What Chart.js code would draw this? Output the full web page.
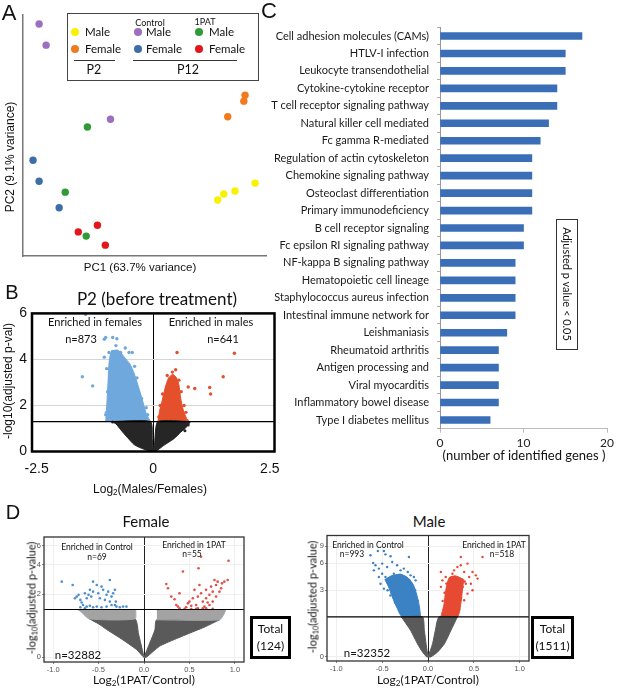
<!DOCTYPE html>
<html>
<head>
<meta charset="utf-8">
<script src="https://cdn.jsdelivr.net/npm/chart.js@4.4.1/dist/chart.umd.min.js"></script>
<style>
  body { margin: 0; background: #fff; }
  #fig { position: relative; width: 617px; height: 691px; overflow: hidden; font-family: Lato, sans-serif; color: #111; }
  canvas { position: absolute; }
  .t { position: absolute; transform: translate(-50%, -50%); white-space: nowrap; line-height: 1; }
  .l { position: absolute; transform: translateY(-50%); white-space: nowrap; line-height: 1; }
  .v { position: absolute; transform: translate(-50%, -50%) rotate(-90deg); white-space: nowrap; line-height: 1; }
  .dot { position: absolute; width: 8px; height: 8px; border-radius: 50%; transform: translate(-50%, -50%); }
  .arial { font-family: "Liberation Sans", Arial, sans-serif; }
  sub { font-size: 68%; vertical-align: -0.25em; line-height: 0; }
  .box { position: absolute; box-sizing: border-box; border: 3px solid #000; display: flex; align-items: center; justify-content: center; text-align: center; font-size: 12px; line-height: 1.35; }
</style>
</head>
<body>
<div id="fig">
  <canvas id="pca" width="270" height="280" style="left:0;top:0"></canvas>
  <canvas id="volcP2" width="300" height="200" style="left:0;top:300px"></canvas>
  <canvas id="kegg" width="357" height="470" style="left:260px;top:0"></canvas>
  <canvas id="volcFemale" width="300" height="161" style="left:0;top:530px"></canvas>
  <canvas id="volcMale" width="317" height="161" style="left:300px;top:530px"></canvas>

  <!-- panel letters -->
  <div class="t arial" style="left:9px;top:13px;font-size:22px">A</div>
  <div class="t arial" style="left:12px;top:292px;font-size:20px">B</div>
  <div class="t arial" style="left:269px;top:11px;font-size:22px">C</div>
  <div class="t arial" style="left:13px;top:512px;font-size:20px">D</div>

  <!-- A: titles + legend -->
  <div class="t arial" style="left:140px;top:268px;font-size:11.5px">PC1 (63.7% variance)</div>
  <div class="v arial" style="left:10px;top:157px;font-size:12px">PC2 (9.1% variance)</div>
  <div style="position:absolute;left:67px;top:13px;width:192px;height:68px;border:1px solid #444;box-sizing:border-box"></div>
  <div class="dot" style="left:75px;top:32px;background:#f7f200"></div>
  <div class="dot" style="left:75px;top:49px;background:#f07a1e"></div>
  <div class="dot" style="left:138px;top:32px;background:#9d6fc0"></div>
  <div class="dot" style="left:138px;top:49px;background:#3d6ea8"></div>
  <div class="dot" style="left:199px;top:32px;background:#2f9a36"></div>
  <div class="dot" style="left:199px;top:49px;background:#e3161c"></div>
  <div class="l" style="left:85px;top:32px;font-size:11.5px">Male</div>
  <div class="l" style="left:85px;top:49px;font-size:11.5px">Female</div>
  <div class="l" style="left:146px;top:32px;font-size:11.5px">Male</div>
  <div class="l" style="left:146px;top:49px;font-size:11.5px">Female</div>
  <div class="l" style="left:209px;top:32px;font-size:11.5px">Male</div>
  <div class="l" style="left:209px;top:49px;font-size:11.5px">Female</div>
  <div class="t" style="left:150px;top:22px;font-size:9px">Control</div>
  <div class="t" style="left:205px;top:21px;font-size:9px">1PAT</div>
  <div style="position:absolute;left:74px;top:60px;width:41px;height:1px;background:#333"></div>
  <div style="position:absolute;left:133px;top:60px;width:104px;height:1px;background:#333"></div>
  <div class="t" style="left:94px;top:70px;font-size:12.5px">P2</div>
  <div class="t" style="left:188px;top:70px;font-size:12.5px">P12</div>

  <!-- B: texts -->
  <div class="t" style="left:157px;top:298px;font-size:17px">P2 (before treatment)</div>
  <div class="t" style="left:95px;top:321px;font-size:11px">Enriched in females</div>
  <div class="t" style="left:81px;top:338px;font-size:11px">n=873</div>
  <div class="t" style="left:211px;top:321px;font-size:11px">Enriched in males</div>
  <div class="t" style="left:223px;top:338px;font-size:11px">n=641</div>
  <div class="t arial" style="left:150px;top:489px;font-size:12px">Log<sub>2</sub>(Males/Females)</div>
  <div class="v arial" style="left:8px;top:381px;font-size:12px">-log10(adjusted p-val)</div>

  <!-- C: texts -->
  <div class="t" style="left:524px;top:455px;font-size:13px">(number of identified genes )</div>
  <div style="position:absolute;left:556px;top:219px;width:22px;height:131px;border:1px solid #333;box-sizing:border-box"></div>
  <div class="t" style="left:567px;top:284px;font-size:11px;transform:translate(-50%,-50%) rotate(90deg)">Adjusted p value &lt; 0.05</div>

  <!-- D: texts -->
  <div class="t" style="left:146px;top:521px;font-size:15px">Female</div>
  <div class="t" style="left:429px;top:521px;font-size:15px">Male</div>
  <div class="t" style="left:97px;top:547px;font-size:8.5px">Enriched in Control</div>
  <div class="t" style="left:97px;top:557px;font-size:8.5px">n=69</div>
  <div class="t" style="left:194px;top:545px;font-size:8.5px">Enriched in 1PAT</div>
  <div class="t" style="left:192px;top:554px;font-size:8.5px">n=55</div>
  <div class="t" style="left:78px;top:655px;font-size:11.5px">n=32882</div>
  <div class="t" style="left:144px;top:680px;font-size:12px">Log<sub>2</sub>(1PAT/Control)</div>
  <div class="v" style="left:31px;top:598px;font-size:11px">-log<sub>10</sub>(adjusted p-value)</div>
  <div class="box" style="left:250px;top:616px;width:41px;height:43px">Total<br>(124)</div>

  <div class="t" style="left:368px;top:545px;font-size:8.5px">Enriched in Control</div>
  <div class="t" style="left:352px;top:554px;font-size:8.5px">n=993</div>
  <div class="t" style="left:494px;top:545px;font-size:8.5px">Enriched in 1PAT</div>
  <div class="t" style="left:502px;top:554px;font-size:8.5px">n=518</div>
  <div class="t" style="left:367px;top:653px;font-size:11.5px">n=32352</div>
  <div class="t" style="left:428px;top:680px;font-size:12px">Log<sub>2</sub>(1PAT/Control)</div>
  <div class="v" style="left:312px;top:597px;font-size:11px">-log<sub>10</sub>(adjusted p-value)</div>
  <div class="box" style="left:531px;top:616px;width:43px;height:43px">Total<br>(1511)</div>
</div>

<script>
// ---------- A: PCA (PC1, PC2) ----------
const aYellow = [[24.1, -10.7], [26.1, -9.7], [29.8, -9.2], [36.4, -7.9]];
const aOrange = [[33.1, 6.7], [32.7, 5.7], [27.4, 3.1]];
const aPurple = [[-34.7, 18.5], [-32.4, 15.0], [-11.2, 2.7]];
const aGreen = [[-18.8, 1.4], [-26.1, -9.4], [-19.2, -16.7]];
const aBlue = [[-36.7, -4.1], [-34.7, -7.6], [-28.1, -12.0]];
const aRed = [[-21.8, -16.0], [-15.5, -14.9], [-12.9, -18.2]];

// ---------- B: P2 volcano (log2 FC, -log10 adj p) ----------
const bThreshold = 1.3;
const bXTicks = [-2.5, 0, 2.5];
const bYTicks = [0, 2, 4, 6];
const bBlueCore = [[-1.02, 1.3], [-1.0, 1.9], [-0.97, 3.0], [-0.95, 3.8], [-0.9, 4.35], [-0.75, 4.4], [-0.62, 4.1],
  [-0.5, 3.8], [-0.41, 3.4], [-0.33, 2.9], [-0.27, 2.5], [-0.2, 2.0], [-0.16, 1.7], [-0.1, 1.45], [-0.05, 1.3]];
const bRedCore = [[0.1, 1.3], [0.14, 1.8], [0.19, 2.2], [0.26, 2.8], [0.33, 3.2], [0.42, 3.35], [0.5, 3.2],
  [0.55, 2.9], [0.59, 2.3], [0.63, 1.9], [0.68, 1.6], [0.74, 1.3]];
const bBlackLeftLow = [[-0.9, 1.3], [-0.8, 1.2], [-0.7, 0.95], [-0.55, 0.6], [-0.41, 0.3], [-0.3, 0.18], [-0.2, 0.1], [-0.06, 0.0], [0, 0]];
const bBlackLeftHigh = [[-0.9, 1.3], [-0.06, 1.3], [-0.02, 0.5], [0, 0]];
const bBlackRightLow = [[0, 0], [0.05, 0], [0.23, 0.27], [0.44, 0.55], [0.59, 0.84], [0.73, 1.1], [0.8, 1.3]];
const bBlackRightHigh = [[0, 0], [0.03, 0.4], [0.1, 1.3], [0.8, 1.3]];
const bBlue = [[-1.52, 3.25], [-1.30, 2.85], [-1.05, 4.88], [-1.02, 4.95], [-0.87, 4.95], [-0.78, 4.9], [-0.95, 4.3],
  [-0.87, 4.35], [-0.70, 4.3], [-0.52, 4.3], [-0.45, 4.3], [-1.05, 4.1], [-1.02, 1.6], [-1.0, 1.7], [-0.97, 1.9],
  [-0.9, 2.05], [-1.45, 5.95], [-0.6, 4.5], [-0.8, 4.6], [-1.0, 3.6], [-0.98, 2.6], [-0.4, 3.7], [-0.35, 3.2],
  [-0.25, 2.3], [-0.15, 1.9], [-0.12, 1.6]];
const bRed = [[0.51, 4.3], [1.74, 4.27], [1.50, 3.25], [1.21, 2.78], [1.23, 2.5], [0.89, 2.74], [0.75, 2.8],
  [0.48, 3.55], [0.41, 3.45], [0.73, 1.34], [0.66, 2.0], [0.7, 1.7], [0.6, 2.6], [0.3, 3.3], [0.2, 2.5],
  [0.15, 2.0], [0.12, 1.5], [0.55, 3.1]];
const bBlack = [[-0.87, 1.28], [-0.74, 1.2], [-0.6, 0.95], [0.64, 0.98], [0.68, 0.9], [0.75, 1.15], [0.5, 0.8],
  [-0.5, 0.8], [-0.3, 0.35], [0.3, 0.5]];

// ---------- C: KEGG pathways ----------
const cPathways = ['Cell adhesion molecules (CAMs)', 'HTLV-I infection', 'Leukocyte transendothelial',
  'Cytokine-cytokine receptor', 'T cell receptor signaling pathway', 'Natural killer cell mediated',
  'Fc gamma R-mediated', 'Regulation of actin cytoskeleton', 'Chemokine signaling pathway',
  'Osteoclast differentiation', 'Primary immunodeficiency', 'B cell receptor signaling',
  'Fc epsilon RI signaling pathway', 'NF-kappa B signaling pathway', 'Hematopoietic cell lineage',
  'Staphylococcus aureus infection', 'Intestinal immune network for', 'Leishmaniasis',
  'Rheumatoid arthritis', 'Antigen processing and', 'Viral myocarditis', 'Inflammatory bowel disease',
  'Type I diabetes mellitus'];
const cGenes = [17, 15, 15, 14, 14, 13, 12, 11, 11, 11, 11, 10, 10, 9, 9, 9, 9, 8, 7, 7, 7, 7, 6];

// ---------- D: P12 volcanoes (log2 FC, -log10 adj p) ----------
const dThreshold = 1.3;
const dXTicks = [-1, -0.5, 0, 0.5, 1];
const dfYTicks = [0, 2, 4, 6];
const dmYTicks = [0, 3, 6, 9];
const dfBlue = [[-0.905, 2.74], [-0.785, 2.53], [-0.74, 1.88], [-0.76, 1.80], [-0.72, 1.97], [-0.70, 1.72],
  [-0.686, 1.60], [-0.67, 1.49], [-0.63, 1.80], [-0.65, 2.05], [-0.61, 1.97], [-0.595, 2.24], [-0.58, 1.88],
  [-0.56, 2.14], [-0.56, 2.74], [-0.52, 2.53], [-0.503, 2.05], [-0.485, 1.80], [-0.467, 2.43], [-0.449, 2.24],
  [-0.43, 1.72], [-0.412, 1.97], [-0.394, 2.14], [-0.376, 2.85], [-0.376, 1.64], [-0.357, 1.88], [-0.339, 2.05],
  [-0.32, 2.24], [-0.32, 1.49], [-0.357, 1.49], [-0.31, 1.64], [-0.303, 1.42], [-0.266, 1.39], [-0.23, 1.42],
  [-0.193, 1.42], [-0.412, 1.42], [-0.467, 1.39], [-0.52, 1.42], [-0.56, 1.39], [-0.595, 1.45], [-0.63, 1.42],
  [-0.70, 1.39], [-0.65, 1.35]];
const dfRed = [[0.245, 2.59], [0.264, 2.33], [0.30, 1.88], [0.336, 1.75], [0.355, 1.49], [0.373, 1.42],
  [0.391, 2.05], [0.391, 1.35], [0.428, 3.46], [0.464, 1.39], [0.483, 1.56], [0.50, 1.64], [0.52, 1.45],
  [0.537, 1.80], [0.555, 2.24], [0.574, 1.49], [0.592, 1.88], [0.60, 3.72], [0.61, 2.53], [0.628, 2.05],
  [0.647, 1.64], [0.647, 1.35], [0.665, 1.42], [0.683, 1.80], [0.70, 1.60], [0.72, 1.97], [0.738, 2.43],
  [0.756, 2.14], [0.775, 2.85], [0.793, 2.53], [0.81, 2.74], [0.858, 2.63], [0.884, 2.74], [0.92, 2.85],
  [0.93, 4.39], [0.628, 4.78], [0.683, 1.35], [0.574, 1.33], [0.52, 1.32], [0.446, 1.33], [0.72, 1.49],
  [0.756, 1.64], [0.793, 1.88], [0.848, 2.33], [0.83, 2.14], [0.683, 2.24], [0.756, 1.33], [0.592, 1.35]];
const dfGrayLeftLow = [[-0.6, 0.95], [-0.5, 0.79], [-0.41, 0.62], [-0.23, 0.35], [-0.08, 0.14], [-0.01, 0.01], [0, 0]];
const dfGrayLeftHigh = [[-0.6, 0.95], [-0.1, 0.95], [-0.06, 0.5], [-0.02, 0.15], [0, 0]];
const dfGrayRightLow = [[0, 0], [0.026, 0], [0.17, 0.21], [0.32, 0.35], [0.5, 0.52], [0.68, 0.71], [0.83, 0.92]];
const dfGrayRightHigh = [[0, 0], [0.063, 0.28], [0.12, 0.61], [0.14, 0.92], [0.83, 0.92]];
const dfSpeckLeft = [[-0.73, 1.3], [-0.69, 1.2], [-0.6, 0.95], [-0.1, 0.95], [-0.09, 1.3]];
const dfSpeckRight = [[0.14, 0.92], [0.83, 0.92], [0.884, 1.15], [0.9, 1.3]];

const dmBlue = [[-0.626, 7.28], [-0.546, 8.06], [-0.48, 8.06], [-0.463, 7.45], [-0.408, 7.11], [-0.208, 7.0],
  [-0.597, 6.06], [-0.572, 5.73], [-0.535, 5.28], [-0.499, 5.97], [-0.445, 5.5], [-0.39, 6.2], [-0.336, 5.73],
  [-0.299, 5.06], [-0.263, 5.28], [-0.22, 4.85], [-0.19, 4.46], [-0.154, 4.27], [-0.499, 4.65], [-0.463, 4.27],
  [-0.535, 4.27], [-0.445, 3.75], [-0.372, 4.65], [-0.317, 4.27], [-0.263, 4.27], [-0.59, 5.06], [-0.517, 3.59],
  [-0.48, 3.14], [-0.19, 3.59], [-0.135, 3.92], [-0.44, 3.0], [-0.41, 2.6], [-0.36, 2.1], [-0.3, 1.6],
  [-0.42, 3.4], [-0.2, 3.9], [-0.14, 3.0], [-0.11, 2.2]];
const dmRed = [[0.357, 7.0], [0.594, 7.0], [0.43, 5.97], [0.485, 4.85], [0.521, 4.46], [0.54, 4.1], [0.14, 4.85],
  [0.193, 4.27], [0.21, 3.59], [0.284, 5.06], [0.32, 5.5], [0.357, 5.73], [0.394, 4.85], [0.449, 4.27],
  [0.467, 3.59], [0.485, 3.0], [0.43, 2.73], [0.394, 2.25], [0.157, 3.92], [0.266, 4.65], [0.412, 3.59], [0.14, 3.3],
  [0.16, 2.2], [0.18, 2.8], [0.2, 3.6], [0.36, 2.4], [0.38, 3.3], [0.4, 3.8], [0.34, 1.7]];
const dmBlueLow = [[-0.47, 4.0], [-0.43, 3.3], [-0.39, 2.5], [-0.34, 1.8], [-0.28, 1.3], [-0.08, 1.3]];
const dmBlueHigh = [[-0.47, 4.0], [-0.4, 4.4], [-0.3, 4.6], [-0.22, 4.2], [-0.16, 3.5], [-0.12, 2.6], [-0.095, 1.9], [-0.08, 1.3]];
const dmRedLow = [[0.14, 1.3], [0.32, 1.3], [0.357, 2.0], [0.375, 3.0], [0.39, 4.0]];
const dmRedHigh = [[0.14, 1.3], [0.175, 2.0], [0.193, 3.0], [0.23, 4.2], [0.3, 4.4], [0.39, 4.0]];
const dmGrayLeftLow = [[-0.29, 1.3], [-0.19, 0.74], [-0.116, 0.32], [-0.06, 0.11], [-0.014, 0], [0, 0]];
const dmGrayLeftHigh = [[-0.29, 1.3], [-0.06, 1.3], [-0.04, 0.74], [-0.02, 0.3], [0, 0]];
const dmGrayRightLow = [[0, 0], [0.03, 0], [0.105, 0.11], [0.18, 0.32], [0.25, 0.74], [0.32, 1.3]];
const dmGrayRightHigh = [[0, 0], [0.05, 0.32], [0.08, 0.74], [0.12, 1.3], [0.32, 1.3]];

Chart.defaults.font.family = 'Lato';
Chart.defaults.animation = false;

// frame around the plotting area
const framePlugin = {
  id: 'frame',
  afterDatasetsDraw(chart, args, opts) {
    if (!opts.width) return;
    const { left, top, right, bottom } = chart.chartArea;
    const ctx = chart.ctx;
    ctx.save();
    ctx.strokeStyle = opts.color;
    ctx.lineWidth = opts.width;
    ctx.strokeRect(left, top, right - left, bottom - top);
    ctx.restore();
  }
};

const same = v => v;
const pLog = v => Math.log10(1 + v);   // compressed y axis used in panel D
const toXY = (arr, tf) => arr.map(p => ({ x: p[0], y: tf(p[1]) }));

function points(arr, color, r, tf) {
  return { type: 'scatter', data: toXY(arr, tf), backgroundColor: color, pointRadius: r,
    borderWidth: 0, pointBorderWidth: 0, order: 2 };
}
// dense clouds: area between two outlines
function band(low, high, color, tf) {
  return [
    { type: 'line', data: toXY(low, tf), fill: '+1', backgroundColor: color, borderColor: color,
      borderWidth: 1, pointRadius: 0, tension: 0.2, order: 5 },
    { type: 'line', data: toXY(high, tf), fill: false, borderColor: color,
      borderWidth: 1, pointRadius: 0, tension: 0.2, order: 5 }
  ];
}
function toLevel(arr, level, color, tf) {
  return { type: 'line', data: toXY(arr, tf), fill: { value: tf(level) }, backgroundColor: color,
    borderColor: color, borderWidth: 1, pointRadius: 0, tension: 0.2, order: 5 };
}
function hline(level, xmin, xmax, tf) {
  return { type: 'line', data: [{ x: xmin, y: tf(level) }, { x: xmax, y: tf(level) }],
    borderColor: '#000', borderWidth: 1.2, pointRadius: 0, order: 0 };
}
const noLegend = { legend: { display: false }, tooltip: { enabled: false } };

// ---------- A ----------
new Chart('pca', {
  type: 'scatter',
  data: {
    datasets: [
      points(aYellow, '#f7f200', 3.7, same), points(aOrange, '#f07a1e', 3.7, same),
      points(aPurple, '#9d6fc0', 3.7, same), points(aGreen, '#2f9a36', 3.7, same),
      points(aBlue, '#3d6ea8', 3.7, same), points(aRed, '#e3161c', 3.7, same)
    ]
  },
  options: {
    responsive: false,
    layout: { padding: { left: 0, top: 15, right: 2, bottom: 0 } },
    plugins: noLegend,
    scales: {
      x: { min: -40, max: 40, ticks: { display: false }, grid: { display: false },
           border: { color: '#777', width: 1.5 }, afterFit: s => { s.height = 24; } },
      y: { min: -20, max: 20, ticks: { display: false }, grid: { display: false },
           border: { color: '#777', width: 1.5 }, afterFit: s => { s.width = 23; } }
    }
  }
});

// ---------- B ----------
const bMin = -2.6, bMax = 2.6;
new Chart('volcP2', {
  type: 'scatter',
  data: {
    datasets: [
      ...band(bBlackLeftLow, bBlackLeftHigh, '#262626', same),
      ...band(bBlackRightLow, bBlackRightHigh, '#262626', same),
      toLevel(bBlueCore, bThreshold, '#6fa8dc', same),
      toLevel(bRedCore, bThreshold, '#e4502b', same),
      points(bBlue, '#6fa8dc', 1.7, same),
      points(bRed, '#e4502b', 1.7, same),
      points(bBlack, '#262626', 1.5, same),
      hline(bThreshold, bMin, bMax, same)
    ]
  },
  options: {
    responsive: false,
    layout: { padding: { left: 0, top: 10, right: 25.5, bottom: 0 } },
    plugins: { ...noLegend, frame: { width: 2.5, color: '#000' } },
    scales: {
      x: { type: 'linear', min: bMin, max: bMax,
           afterBuildTicks: s => { s.ticks = bXTicks.map(v => ({ value: v })); },
           afterFit: s => { s.height = 48.5; },
           grid: { color: c => (c.tick && c.tick.value === 0 ? '#000' : 'rgba(0,0,0,0)'), drawTicks: false },
           border: { display: false },
           ticks: { padding: 9, color: '#111', font: { family: 'Liberation Sans', size: 14 }, callback: v => String(v) } },
      y: { min: 0, max: 6,
           afterBuildTicks: s => { s.ticks = bYTicks.map(v => ({ value: v })); },
           afterFit: s => { s.width = 32; },
           grid: { color: c => (c.tick && (c.tick.value === 2 || c.tick.value === 4) ? '#d6d6d6' : 'rgba(0,0,0,0)'), drawTicks: false },
           border: { display: false },
           ticks: { padding: 5, color: '#111', font: { family: 'Liberation Sans', size: 14 }, callback: v => String(v) } }
    }
  },
  plugins: [framePlugin]
});

// ---------- C ----------
new Chart('kegg', {
  type: 'bar',
  data: { labels: cPathways, datasets: [{ data: cGenes, backgroundColor: '#3a6fb7', barThickness: 7 }] },
  options: {
    indexAxis: 'y',
    responsive: false,
    layout: { padding: { left: 0, top: 27.3, right: 7, bottom: 0 } },
    plugins: noLegend,
    scales: {
      x: { min: 0, max: 20, afterFit: s => { s.height = 41.3; },
           ticks: { stepSize: 10, padding: 3, color: '#222', font: { size: 12 } },
           grid: { drawOnChartArea: false, tickLength: 4, color: '#bbb' }, border: { color: '#bbb' } },
      y: { afterFit: s => { s.width = 180; },
           ticks: { autoSkip: false, padding: 8, color: '#1a1a1a', font: { size: 11 } },
           grid: { drawOnChartArea: false, tickLength: 3, color: '#aaa' }, border: { color: '#999' } }
    }
  }
});

// ---------- D ----------
function dScales(yTicks, yMax, yw, xh) {
  return {
    x: { type: 'linear', min: -1.1, max: 1.1,
         afterBuildTicks: s => { s.ticks = dXTicks.map(v => ({ value: v })); },
         afterFit: s => { s.height = xh; },
         grid: { color: c => (c.tick && c.tick.value === 0 ? '#222' : '#efefef'), tickColor: '#888', tickLength: 2 },
         border: { display: false },
         ticks: { padding: 1, color: '#555', font: { family: 'Liberation Sans', size: 7.5 }, callback: v => v.toFixed(1) } },
    y: { min: pLog(-0.08), max: pLog(yMax),
         afterBuildTicks: s => { s.ticks = yTicks.map(v => ({ value: pLog(v) })); },
         afterFit: s => { s.width = yw; },
         grid: { color: '#efefef', tickColor: '#888', tickLength: 2 },
         border: { display: false },
         ticks: { padding: 1, color: '#555', font: { family: 'Liberation Sans', size: 7.5 }, callback: (v, i) => String(yTicks[i]) } }
  };
}

new Chart('volcFemale', {
  type: 'scatter',
  data: {
    datasets: [
      toLevel(dfSpeckLeft, dThreshold, '#a3a3a3', pLog),
      toLevel(dfSpeckRight, dThreshold, '#a3a3a3', pLog),
      ...band(dfGrayLeftLow, dfGrayLeftHigh, '#5a5a5a', pLog),
      ...band(dfGrayRightLow, dfGrayRightHigh, '#5a5a5a', pLog),
      points(dfBlue, '#4f8fc9', 1.3, pLog),
      points(dfRed, '#e0504a', 1.3, pLog),
      hline(dThreshold, -1.1, 1.1, pLog)
    ]
  },
  options: {
    responsive: false,
    layout: { padding: { left: 0, top: 7, right: 56, bottom: 0 } },
    plugins: { ...noLegend, frame: { width: 1.3, color: '#333' } },
    scales: dScales(dfYTicks, 7.15, 44, 29)
  },
  plugins: [framePlugin]
});

new Chart('volcMale', {
  type: 'scatter',
  data: {
    datasets: [
      ...band(dmGrayLeftLow, dmGrayLeftHigh, '#5a5a5a', pLog),
      ...band(dmGrayRightLow, dmGrayRightHigh, '#5a5a5a', pLog),
      ...band(dmBlueLow, dmBlueHigh, '#3b82c4', pLog),
      ...band(dmRedLow, dmRedHigh, '#e64a33', pLog),
      points(dmBlue, '#3b82c4', 1.2, pLog),
      points(dmRed, '#e64a33', 1.2, pLog),
      hline(dThreshold, -1.1, 1.1, pLog)
    ]
  },
  options: {
    responsive: false,
    layout: { padding: { left: 0, top: 5, right: 88, bottom: 0 } },
    plugins: { ...noLegend, frame: { width: 1.3, color: '#333' } },
    scales: dScales(dmYTicks, 11.5, 27, 30)
  },
  plugins: [framePlugin]
});
</script>
</body>
</html>
